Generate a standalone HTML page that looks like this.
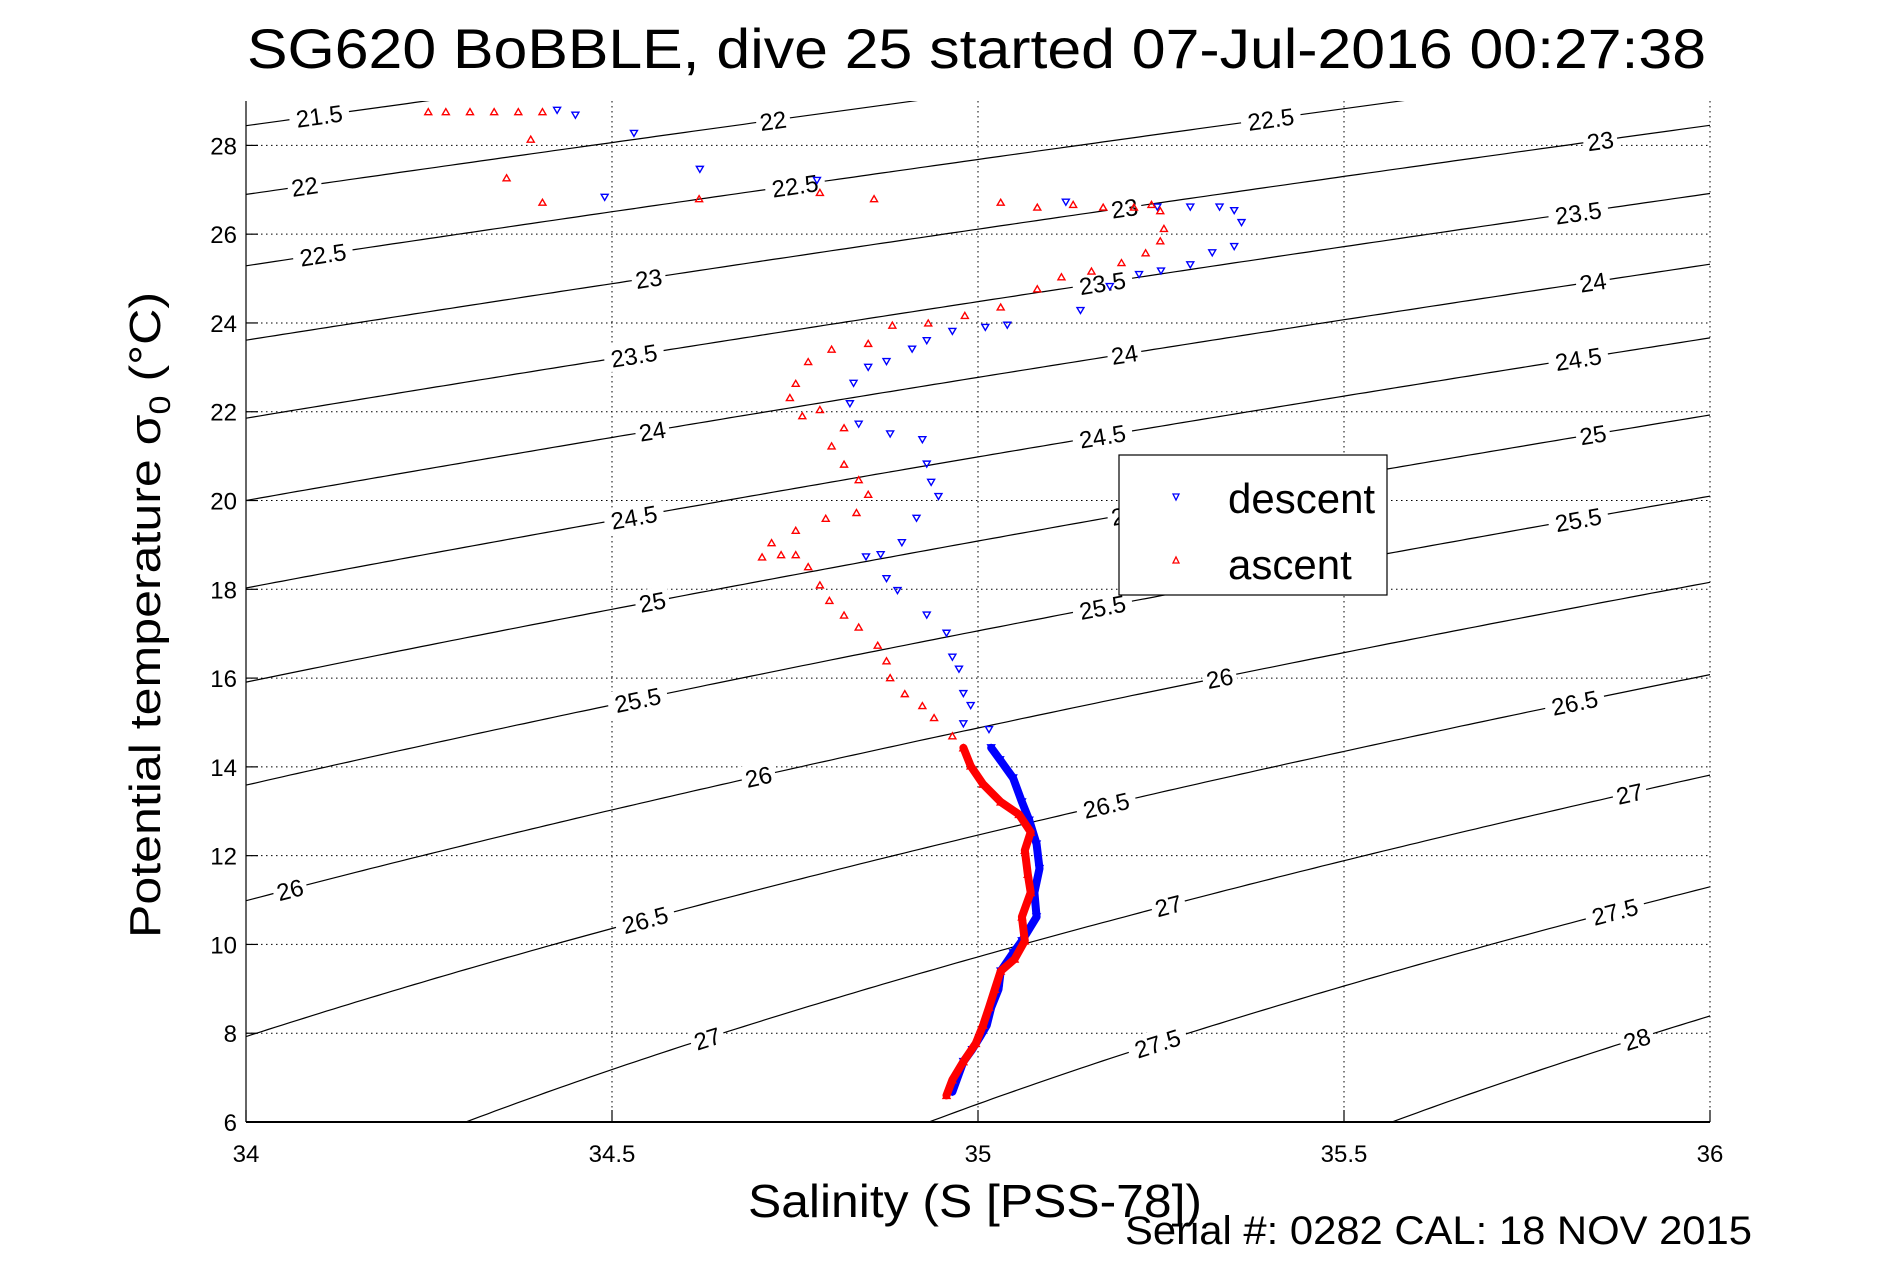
<!DOCTYPE html>
<html><head><meta charset="utf-8"><style>
html,body{margin:0;padding:0;background:#fff;overflow:hidden;width:1891px;height:1262px;}
svg{display:block;font-family:"Liberation Sans",sans-serif;}
</style></head><body>
<svg id="chart" width="1891" height="1262" viewBox="0 0 1891 1262" xmlns="http://www.w3.org/2000/svg" overflow="hidden">
<defs><clipPath id="plotclip"><rect x="246" y="101" width="1464" height="1021"/></clipPath></defs>
<rect width="1891" height="1262" fill="#fff"/>
<text x="247" y="68" font-size="56" textLength="1459" lengthAdjust="spacingAndGlyphs">SG620 BoBBLE, dive 25 started 07-Jul-2016 00:27:38</text>
<g id="grid"></g>
<g id="contours" clip-path="url(#plotclip)"></g>
<g id="labels"></g>
<g id="series" clip-path="url(#plotclip)"></g>
<g id="axes"></g>
<text transform="translate(160,938) rotate(-90)" font-size="44" textLength="646" lengthAdjust="spacingAndGlyphs">Potential temperature σ<tspan font-size="30" dy="10">0</tspan><tspan dy="-10"> (°C)</tspan></text>
<text x="748" y="1217" font-size="46" textLength="454" lengthAdjust="spacingAndGlyphs">Salinity (S [PSS-78])</text>
<text x="1125" y="1244" font-size="40" textLength="627" lengthAdjust="spacingAndGlyphs">Serial #: 0282  CAL: 18 NOV 2015</text>
<g>
<rect x="1119" y="455" width="268" height="140" fill="#fff" stroke="#000" stroke-width="1.2"/>
<polygon points="1173,494 1179,494 1176,500" fill="none" stroke="#00f" stroke-width="1.3"/>
<text x="1228" y="513" font-size="42">descent</text>
<polygon points="1173,563 1179,563 1176,557" fill="none" stroke="#f00" stroke-width="1.3"/>
<text x="1228" y="579" font-size="42">ascent</text>
</g>
</svg>
<script>
const xTicks=[34,34.5,35,35.5,36];
const yTicks=[6,8,10,12,14,16,18,20,22,24,26,28];
const sigmaLevels=[21.5,22,22.5,23,23.5,24,24.5,25,25.5,26,26.5,27,27.5,28];
const labelS=[[34.10],[34.08,34.72],[34.105,34.75,35.40],[34.55,35.2,35.85],[34.53,35.17,35.82],[34.555,35.2,35.84],[34.53,35.17,35.82],[34.555,35.2,35.84],[34.535,35.17,35.82],[34.06,34.70,35.33],[34.545,35.175,35.815],[34.63,35.26,35.89],[35.245,35.87],[35.9]];
const descentS=[34.425,34.45,34.53,34.62,34.49,34.78,35.12,35.245,35.29,35.33,35.35,35.36,35.35,35.32,35.29,35.25,35.22,35.18,35.14,35.04,35.01,34.965,34.93,34.91,34.875,34.85,34.83,34.825,34.837,34.88,34.924,34.93,34.936,34.946,34.916,34.896,34.867,34.847,34.875,34.89,34.93,34.957,34.965,34.974,34.98,34.99,34.98,35.015,35.018,35.03,35.048,35.06,35.07,35.08,35.084,35.077,35.08,35.06,35.048,35.031,35.028,35.018,35.012,35.002,34.992,34.98,34.974,34.965];
const descentT=[28.79,28.68,28.27,27.46,26.83,27.21,26.72,26.61,26.61,26.61,26.53,26.26,25.72,25.58,25.31,25.17,25.09,24.82,24.28,23.95,23.90,23.81,23.60,23.41,23.13,23.00,22.64,22.18,21.72,21.50,21.37,20.82,20.41,20.09,19.60,19.05,18.78,18.73,18.24,17.97,17.42,17.01,16.47,16.20,15.65,15.38,14.97,14.84,14.43,14.16,13.75,13.21,12.80,12.26,11.71,11.17,10.62,10.08,9.81,9.40,8.99,8.58,8.18,7.90,7.63,7.36,7.09,6.68];
const ascentS=[34.957,34.965,34.98,34.997,35.007,35.015,35.023,35.031,35.05,35.064,35.06,35.072,35.068,35.064,35.072,35.056,35.031,35.007,34.99,34.98,34.965,34.94,34.924,34.90,34.88,34.875,34.863,34.837,34.817,34.797,34.784,34.768,34.751,34.731,34.705,34.718,34.751,34.792,34.834,34.85,34.837,34.817,34.80,34.817,34.784,34.76,34.743,34.751,34.768,34.80,34.85,34.883,34.932,34.982,35.031,35.081,35.114,35.155,35.196,35.229,35.249,35.254,35.249,35.237,35.213,35.171,35.13,35.081,35.031,34.858,34.784,34.619,34.405,34.356,34.389,34.405,34.372,34.339,34.306,34.273,34.249];
const ascentT=[6.60,6.95,7.36,7.77,8.18,8.58,8.99,9.40,9.67,10.08,10.62,11.17,11.58,12.12,12.53,12.93,13.21,13.61,14.02,14.43,14.70,15.11,15.38,15.65,16.01,16.39,16.74,17.15,17.42,17.75,18.10,18.51,18.78,18.78,18.73,19.05,19.33,19.60,19.73,20.14,20.47,20.82,21.23,21.64,22.05,21.91,22.32,22.64,23.13,23.41,23.54,23.95,24.00,24.17,24.36,24.77,25.04,25.17,25.36,25.58,25.85,26.13,26.53,26.67,26.61,26.61,26.67,26.61,26.72,26.80,26.94,26.80,26.72,27.27,28.14,28.76,28.76,28.76,28.76,28.76,28.76,28.82];

const NS='http://www.w3.org/2000/svg';
const L=246,R=1710,T0=101,B=1122,SMIN=34,SMAX=36,TMIN=6,TMAX=29;
function xs(s){return L+(s-SMIN)/(SMAX-SMIN)*(R-L);}
function ys(t){return B-(t-TMIN)/(TMAX-TMIN)*(B-T0);}
function mk(tag,attrs,parent){const e=document.createElementNS(NS,tag);for(const k in attrs)e.setAttribute(k,attrs[k]);parent.appendChild(e);return e;}
function sigma0(S,T){
 const rw=999.842594+6.793952e-2*T-9.095290e-3*T*T+1.001685e-4*T**3-1.120083e-6*T**4+6.536332e-9*T**5;
 const A=0.824493-4.0899e-3*T+7.6438e-5*T*T-8.2467e-7*T**3+5.3875e-9*T**4;
 const Bc=-5.72466e-3+1.0227e-4*T-1.6546e-6*T*T;
 return rw+A*S+Bc*Math.pow(S,1.5)+4.8314e-4*S*S-1000;
}
function tFor(S,sig){let lo=-2,hi=40;for(let i=0;i<50;i++){const m=(lo+hi)/2;if(sigma0(S,m)>sig)lo=m;else hi=m;}return (lo+hi)/2;}

const grid=document.getElementById('grid');
xTicks.forEach(v=>{if(v>SMIN&&v<SMAX){const l=mk('line',{x1:xs(v),x2:xs(v),y1:T0,y2:B,stroke:'#000','stroke-width':1,'stroke-dasharray':'1.5,3.5'},grid);

}});
yTicks.forEach(v=>{if(v>TMIN){const l=mk('line',{x1:L,x2:R,y1:ys(v),y2:ys(v),stroke:'#000','stroke-width':1,'stroke-dasharray':'1.5,3.5'},grid);

}});
{const l=mk('line',{x1:R,x2:R,y1:T0,y2:B,stroke:'#000','stroke-width':1,'stroke-dasharray':'1.5,3.5'},grid);

}

const cg=document.getElementById('contours'),lg=document.getElementById('labels');
sigmaLevels.forEach((lev,i)=>{
 let d='';for(let s=SMIN-0.05;s<=SMAX+0.05;s+=0.01){const t=tFor(s,lev);d+=(d?'L':'M')+xs(s).toFixed(1)+','+ys(t).toFixed(1);}
 const p=mk('path',{d:d,fill:'none',stroke:'#000','stroke-width':1.2},cg);
 
 
 labelS[i].forEach(s=>{
  const t=tFor(s,lev),x=xs(s),y=ys(t);
  const x2=xs(s+0.02),y2=ys(tFor(s+0.02,lev));
  const ang=Math.atan2(y2-y,x2-x)*180/Math.PI;
  const g=mk('g',{transform:`translate(${x},${y}) rotate(${ang})`},lg);
  
  
  const txt=String(lev);const w=txt.length*13+8;
  mk('rect',{x:-w/2,y:-13,width:w,height:26,fill:'#fff'},g);
  const tx=mk('text',{x:0,y:9,'font-size':24,'text-anchor':'middle'},g);tx.textContent=txt;
 });
});

const sg=document.getElementById('series');
function drawSeries(Ss,Ts,color,down,name){
 const g=mk('g',{},sg);
 
 
 let d='';Ss.forEach((s,i)=>{if(Ts[i]<14.5){d+=(d?'L':'M')+xs(s).toFixed(1)+','+ys(Ts[i]).toFixed(1);}});
 const pl=mk('path',{d:d,fill:'none',stroke:color,'stroke-width':8,'stroke-linejoin':'round','stroke-linecap':'round'},g);
 
 
 Ss.forEach((s,i)=>{const x=xs(s),y=ys(Ts[i]);
  const pts=down?`${x-3.5},${y-3} ${x+3.5},${y-3} ${x},${y+3}`:`${x-3.5},${y+3} ${x+3.5},${y+3} ${x},${y-3}`;
  const m=mk('polygon',{points:pts,fill:'none',stroke:color,'stroke-width':1.4},g);
  
  });
}
drawSeries(descentS,descentT,'#0000ff',true,'descent');
drawSeries(ascentS,ascentT,'#ff0000',false,'ascent');

const ax=document.getElementById('axes');
mk('line',{x1:L,x2:L,y1:T0,y2:B,stroke:'#000','stroke-width':1.2},ax);
mk('line',{x1:L,x2:R,y1:B,y2:B,stroke:'#000','stroke-width':2},ax);
xTicks.forEach(v=>{mk('line',{x1:xs(v),x2:xs(v),y1:B,y2:B-12,stroke:'#000','stroke-width':1.2},ax);
 const t=mk('text',{x:xs(v),y:B+40,'font-size':24,'text-anchor':'middle'},ax);t.textContent=String(v);
 
 });
yTicks.forEach(v=>{mk('line',{x1:L,x2:L+12,y1:ys(v),y2:ys(v),stroke:'#000','stroke-width':1.2},ax);
 const t=mk('text',{x:L-9,y:ys(v)+9,'font-size':24,'text-anchor':'end'},ax);t.textContent=String(v);
 
 });
</script>
</body></html>
